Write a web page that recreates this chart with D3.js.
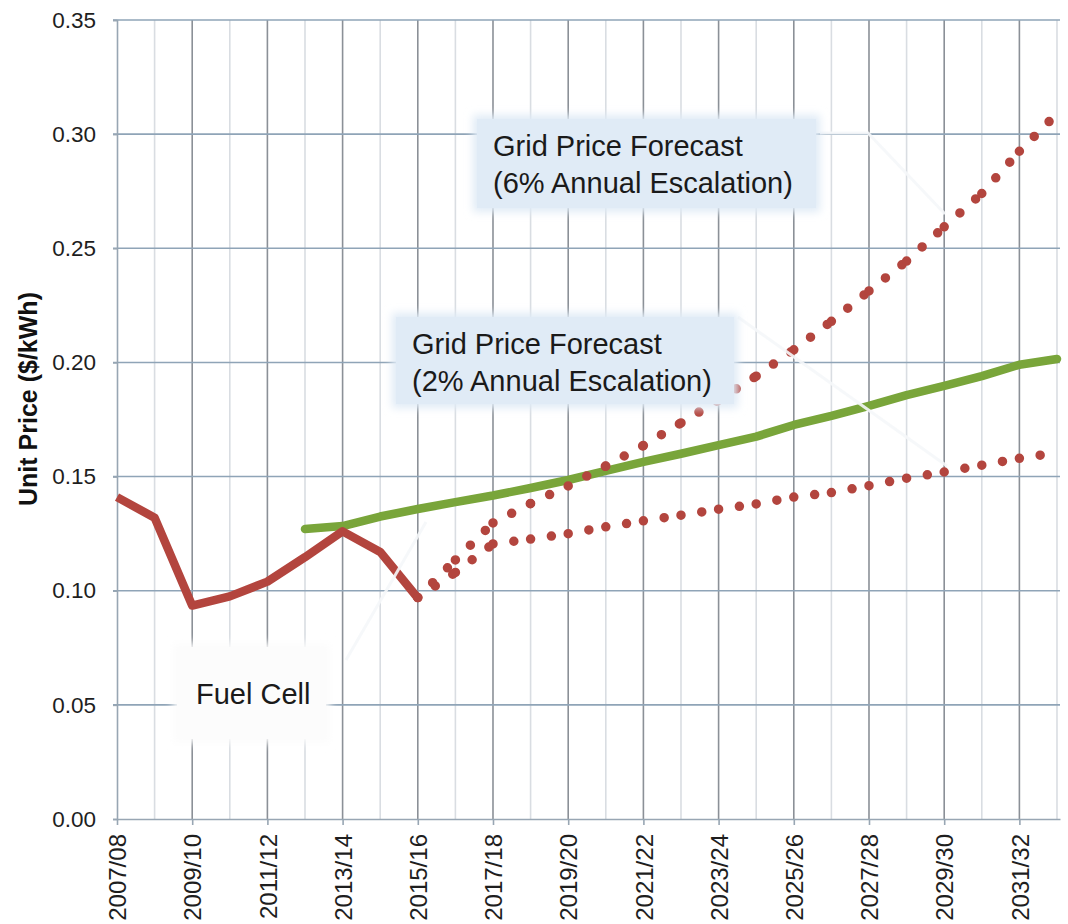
<!DOCTYPE html>
<html>
<head>
<meta charset="utf-8">
<script src="https://cdn.jsdelivr.net/npm/d3@7"></script>
<style>
  html, body { margin: 0; padding: 0; background: #ffffff; }
  svg { display: block; font-family: "Liberation Sans", Arial, sans-serif; }
</style>
</head>
<body>
<svg id="chart" width="1068" height="924"></svg>
<script>
// ---- data ----
const categories = ["2007/08","2008/09","2009/10","2010/11","2011/12","2012/13","2013/14","2014/15",
  "2015/16","2016/17","2017/18","2018/19","2019/20","2020/21","2021/22","2022/23","2023/24","2024/25",
  "2025/26","2026/27","2027/28","2028/29","2029/30","2030/31","2031/32","2032/33"];
const yTicks = [0, 0.05, 0.10, 0.15, 0.20, 0.25, 0.30, 0.35];

// Fuel Cell (2007/08 - 2015/16)
const fuelCellStart = 0;
const fuelCell = [0.141, 0.132, 0.0935, 0.0975, 0.104, 0.1147, 0.126, 0.117, 0.0968];

// Green line (2012/13 - 2032/33)
const greenStart = 5;
const greenLine = [0.127, 0.1283, 0.1325, 0.1358, 0.1388, 0.1417, 0.145, 0.1485, 0.1525, 0.1564,
  0.160, 0.1638, 0.1675, 0.1726, 0.1766, 0.181, 0.1857, 0.1897, 0.194, 0.199, 0.2015];

// Grid price forecast, 6% escalation (dotted, 2015/16 - 2032/33)
const forecastStart = 8;
const grid6 = [0.097, 0.1135, 0.1297, 0.1382, 0.1459, 0.1546, 0.1636, 0.1735, 0.1835, 0.194,
  0.2055, 0.218, 0.2313, 0.2444, 0.2594, 0.274, 0.2925, 0.309];
// Grid price forecast, 2% escalation (dotted)
const grid2 = [0.097, 0.108, 0.1205, 0.1226, 0.125, 0.128, 0.1306, 0.1331, 0.1357, 0.138,
  0.141, 0.143, 0.146, 0.1493, 0.152, 0.155, 0.158, 0.1605];

const labelGrid6 = ["Grid Price Forecast", "(6% Annual Escalation)"];
const labelGrid2 = ["Grid Price Forecast", "(2% Annual Escalation)"];
const labelFuel = ["Fuel Cell"];
const yTitle = "Unit Price ($/kWh)";

// ---- layout ----
const svg = d3.select("#chart");
const mLeft = 117, mRight = 1060, mTop = 20, mBottom = 819;
const x = d3.scaleLinear().domain([0, 25.08]).range([mLeft, mRight]);
const y = d3.scaleLinear().domain([0, 0.35]).range([mBottom, mTop]);

const RED = "#b3453e", GREEN = "#79a53a";

// filters
const defs = svg.append("defs");
defs.append("filter").attr("id", "soft").attr("x", "-20%").attr("y", "-30%").attr("width", "140%").attr("height", "160%")
  .append("feGaussianBlur").attr("stdDeviation", 4);

// ---- gridlines ----
const g = svg.append("g");
g.selectAll("line.vg").data(d3.range(1, categories.length)).join("line")
  .attr("x1", d => x(d)).attr("x2", d => x(d))
  .attr("y1", mTop).attr("y2", mBottom)
  .attr("stroke", d => d % 2 === 0 ? "#8b9097" : "#d9dde2")
  .attr("stroke-width", 1.6);
g.selectAll("line.hg").data(yTicks.filter(d => d > 0)).join("line")
  .attr("x1", mLeft - 4).attr("x2", mRight)
  .attr("y1", d => y(d)).attr("y2", d => y(d))
  .attr("stroke", "#8fa4b7").attr("stroke-width", 1.6);

// axes
const yAxis = d3.axisLeft(y).tickValues(yTicks).tickFormat(d3.format(".2f")).tickSize(4).tickPadding(17);
const ya = svg.append("g").attr("transform", `translate(${mLeft},0)`).call(yAxis);
ya.select(".domain").attr("stroke", "#98a6b3").attr("stroke-width", 1.6);
ya.selectAll(".tick line").attr("stroke", "#98a6b3").attr("stroke-width", 1.6);
ya.selectAll(".tick text").attr("font-size", 22.5).attr("fill", "#1e1e1e")
  .attr("font-family", "'Liberation Sans', Arial, sans-serif");

const xAxis = d3.axisBottom(x).tickValues(d3.range(0, categories.length, 2))
  .tickFormat(i => categories[i]).tickSize(6).tickSizeOuter(0);
const xa = svg.append("g").attr("transform", `translate(0,${mBottom})`).call(xAxis);
xa.select(".domain").attr("stroke", "#98a6b3").attr("stroke-width", 1.6);
xa.selectAll(".tick line").attr("stroke", "#98a6b3").attr("stroke-width", 1.6);
xa.selectAll(".tick text")
  .attr("font-size", 24).attr("fill", "#1e1e1e")
  .attr("font-family", "'Liberation Sans', Arial, sans-serif")
  .attr("text-anchor", "end")
  .attr("transform", "rotate(-90)")
  .attr("x", -15).attr("y", 0).attr("dy", "0.36em");

// y title
svg.append("text")
  .attr("transform", "translate(37,399) rotate(-90)")
  .attr("text-anchor", "middle")
  .attr("font-size", 25).attr("font-weight", "bold").attr("fill", "#111")
  .text(yTitle);

// ---- series ----
const line = d3.line().x(d => x(d[0])).y(d => y(d[1]));
const toPts = (arr, start) => arr.map((v, i) => [start + i, v]);

svg.append("path").datum(toPts(greenLine, greenStart))
  .attr("d", line).attr("fill", "none").attr("stroke", GREEN)
  .attr("stroke-width", 8.5).attr("stroke-linejoin", "round").attr("stroke-linecap", "round");

svg.append("path").datum(toPts(fuelCell, fuelCellStart))
  .attr("d", line).attr("fill", "none").attr("stroke", RED)
  .attr("stroke-width", 8.5).attr("stroke-linejoin", "round").attr("stroke-linecap", "butt");

function dotted(arr) {
  const pts = toPts(arr, forecastStart);
  const segs = d3.pairs(pts);
  svg.append("g").selectAll("path").data(segs).join("path")
    .attr("d", line).attr("fill", "none").attr("stroke", RED)
    .attr("stroke-width", 9.5).attr("stroke-linecap", "round")
    .attr("stroke-dasharray", "0 21");
}
dotted(grid2);
dotted(grid6);

// ---- leader lines ----
const leaders = svg.append("g").attr("fill", "none").attr("stroke", "#f5f7fa")
  .attr("stroke-width", 3).attr("stroke-opacity", 0.9);
leaders.append("path").attr("d", "M820,133 L868,133 L945,214");
leaders.append("path").attr("d", "M738,317 L947,466");
leaders.append("path").attr("d", "M346,660 L426,522");

// ---- label boxes ----
function box(x0, y0, w, h, fill, lines, tx, ty, lh) {
  const b = svg.append("g");
  b.append("rect").attr("x", x0).attr("y", y0).attr("width", w).attr("height", h)
    .attr("fill", fill).attr("filter", "url(#soft)");
  b.append("rect").attr("x", x0 + 4).attr("y", y0 + 4).attr("width", w - 8).attr("height", h - 8)
    .attr("fill", fill);
  b.selectAll("text").data(lines).join("text")
    .attr("x", tx).attr("y", (d, i) => ty + i * lh)
    .attr("font-size", 29).attr("fill", "#1a1a1a").text(d => d);
}
box(473, 115, 347, 97, "#e0ebf6", labelGrid6, 493, 156, 37);
box(392, 313, 346, 95, "#e0ebf6", labelGrid2, 412, 354, 37);
box(173, 643, 157, 100, "#fcfcfc", labelFuel, 196, 704, 37);
</script>
</body>
</html>
